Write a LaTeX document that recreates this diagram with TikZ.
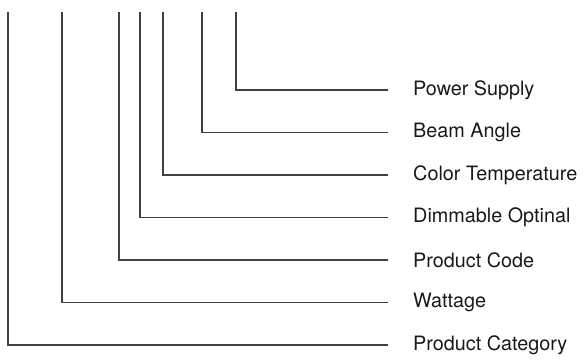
\documentclass[tikz,border=0pt]{standalone}
\usepackage{fontspec}
\setmainfont{TeX Gyre Heros}
\usepackage{tikz}
\usetikzlibrary{positioning}

\begin{document}
\begin{tikzpicture}[x=1pt,y=-1pt]
\tikzset{testo/.style={font=\fontsize{19.8}{23}\selectfont, text=black!90, anchor=west, inner sep=3pt}, }
\tikzset{linea/.style={draw=black!75, line width=1.1pt, shorten >=22pt},}
\useasboundingbox (0,0) rectangle (588,360);

% etichette
\node[testo] (1) at (410,345) {Product Category};
\node[testo] (2) at (410,302.5) {Wattage};
\node[testo] (3) at (410,260) {Product Code};
\node[testo] (4) at (410,217.5) {Dimmable Optinal};
\node[testo] (5) at (410,175) {Color Temperature};
\node[testo] (6) at (410,132.5) {Beam Angle};
\node[testo] (7) at (410,90) {Power Supply};

% inizio delle linee
\coordinate (t1) at (8,12);
\coordinate (t2) at (62,12);
\coordinate (t3) at (119,12);
\coordinate (t4) at (140,12);
\coordinate (t5) at (163,12);
\coordinate (t6) at (202,12);
\coordinate (t7) at (236,12);

\draw[linea] (t1) |- (1.west);
\draw[linea] (t2) |- (2.west);
\draw[linea] (t3) |- (3.west);
\draw[linea] (t4) |- (4.west);
\draw[linea] (t5) |- (5.west);
\draw[linea] (t6) |- (6.west);
\draw[linea] (t7) |- (7.west);
\end{tikzpicture}
\end{document}
